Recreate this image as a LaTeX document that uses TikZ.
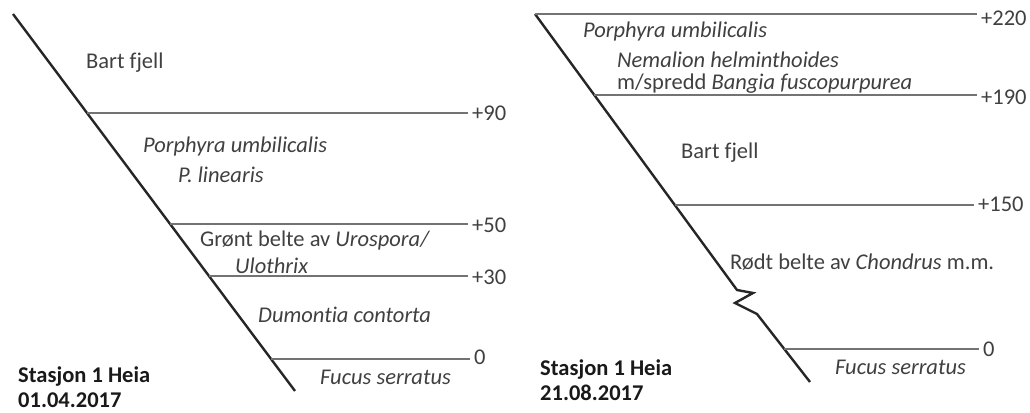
\documentclass[tikz,border=0pt]{standalone}
\usepackage{fontspec}
\setmainfont{Carlito}[Ligatures=NoCommon]
\usetikzlibrary{calc}
\begin{document}
\begin{tikzpicture}[x=1pt,y=-1pt,
    skraa/.style={line width=2.4pt, black!85, line join=miter},
    nivaa/.style={line width=1.3pt, black!55},
    tekst/.style={text=black!75, font=\fontsize{22.5}{25}\selectfont, inner sep=0pt, anchor=west},
    hoyde/.style={tekst, inner sep=4pt},
    stasjon/.style={tekst, text=black!90, font=\fontsize{22.5}{25.5}\selectfont\bfseries, align=left}]
    \useasboundingbox (0,0) rectangle (1030,412);
    % venstre profil, 01.04.2017
    \coordinate (vA) at (13,14);
    \coordinate (vB) at (295,391);
    \draw[skraa] (vA) -- (vB);
    \coordinate (v90) at ($(vA)!99/377!(vB)$);
    \coordinate (v50) at ($(vA)!210/377!(vB)$);
    \coordinate (v30) at ($(vA)!262/377!(vB)$);
    \coordinate (v0) at ($(vA)!345/377!(vB)$);
    \node[hoyde] (h90) at (468,113) {+90};
    \node[hoyde] (h50) at (468,225) {+50};
    \node[hoyde] (h30) at (468,277) {+30};
    \node[hoyde] (h0) at (470,357) {0};
    \draw[nivaa] (v90) -- (v90 -| h90.west);
    \draw[nivaa] (v50) -- (v50 -| h50.west);
    \draw[nivaa] (v30) -- (v30 -| h30.west);
    \draw[nivaa] (v0) -- (v0 -| h0.west);
    \node[tekst] (vbart) at (86,63) {Bart fjell};
    \node[tekst] (vporph) at (143,147) {\itshape Porphyra umbilicalis};
    \node[tekst] (vlin) at (178,175) {\itshape P. linearis};
    \node[tekst] (vgron) at (200,240) {Grønt belte av \textit{Urospora/}};
    \node[tekst] (vulo) at (235,266) {\itshape Ulothrix};
    \node[tekst] (vdum) at (258,315) {\itshape Dumontia contorta};
    \node[tekst] (vfuc) at (320,377) {\itshape Fucus serratus};
    \node[stasjon] (vst) at (18,387) {Stasjon 1 Heia\\01.04.2017};
    % hoyre profil, 21.08.2017
    \coordinate (hA) at (535,14);
    \coordinate (hB) at (737,290);
    \coordinate (hC) at (753,293);
    \coordinate (hD) at (735,303);
    \coordinate (hE) at (757,314);
    \coordinate (hF) at (810,382);
    \draw[skraa] (hA) -- (hB) -- (hC) -- (hD) -- (hE) -- (hF);
    \coordinate (r190) at ($(hA)!81/276!(hB)$);
    \coordinate (r150) at ($(hA)!191/276!(hB)$);
    \coordinate (r0) at ($(hE)!35/68!(hF)$);
    \node[hoyde] (h220) at (977,18) {+220};
    \node[hoyde] (h190) at (977,97) {+190};
    \node[hoyde] (h150) at (974,204) {+150};
    \node[hoyde] (hr0) at (979,349) {0};
    \draw[nivaa] (hA) -- (hA -| h220.west);
    \draw[nivaa] (r190) -- (r190 -| h190.west);
    \draw[nivaa] (r150) -- (r150 -| h150.west);
    \draw[nivaa] (r0) -- (r0 -| hr0.west);
    \node[tekst] (rporph) at (583,32) {\itshape Porphyra umbilicalis};
    \node[tekst] (rnem) at (617,60) {\itshape Nemalion helminthoides};
    \node[tekst] (rspr) at (617,84) {m/spredd \textit{Bangia fuscopurpurea}};
    \node[tekst] (rbart) at (681,153) {Bart fjell};
    \node[tekst] (rrodt) at (730,262) {Rødt belte av \textit{Chondrus} m.m.};
    \node[tekst] (rfuc) at (835,367) {\itshape Fucus serratus};
    \node[stasjon] (rst) at (540,380) {Stasjon 1 Heia\\21.08.2017};
\end{tikzpicture}
\end{document}
